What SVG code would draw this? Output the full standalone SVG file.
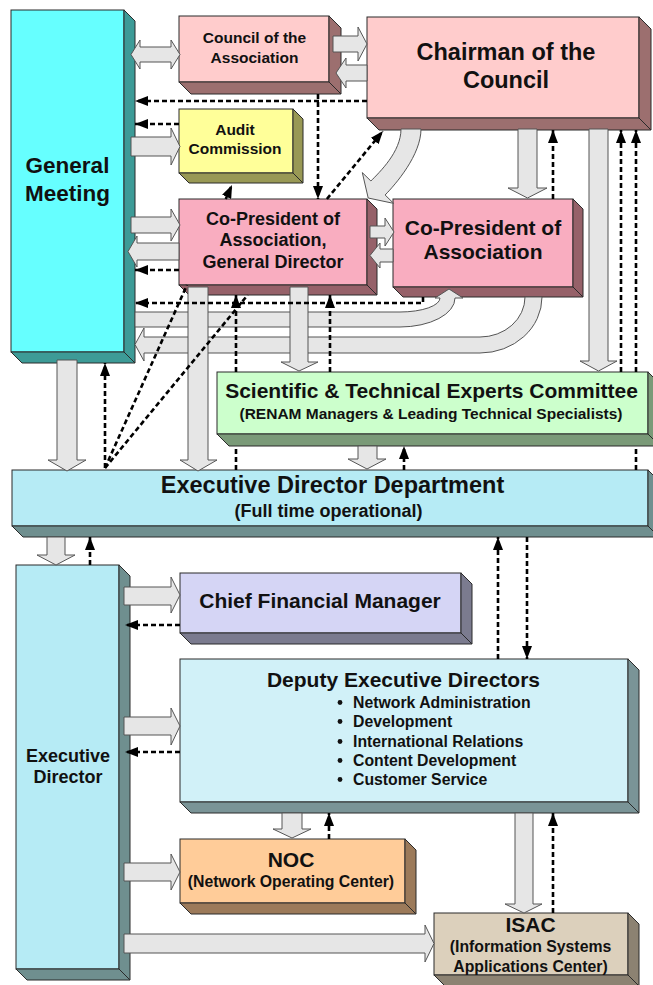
<svg xmlns="http://www.w3.org/2000/svg" width="653" height="985" viewBox="0 0 653 985">
<defs>
<style>
text{font-family:"Liberation Sans",Arial,Helvetica,sans-serif;font-weight:bold;fill:#111;text-anchor:middle}
.fr{stroke:#2a2a2a;stroke-width:1}
.sd{stroke:#2a2a2a;stroke-width:1;stroke-linejoin:round}
.ba{fill:#e6e6e6;stroke:#555;stroke-width:1}
.da{fill:none;stroke:#000;stroke-width:2.6;stroke-dasharray:5 3}
.ah{marker-end:url(#ah)}
</style>
<marker id="ah" viewBox="0 0 13 10" refX="13" refY="5" markerWidth="13" markerHeight="10" orient="auto" markerUnits="userSpaceOnUse"><path d="M0,0 L13,5 L0,10 Z" fill="#000"/></marker>
</defs>
<rect width="653" height="985" fill="#fff"/>

<g id="general-meeting">
<rect class="fr" x="11" y="10" width="113" height="342" fill="#66ffff"/>
<path class="sd" fill="#3d9b97" d="M124 10 L135 21 L135 363 L124 352 Z M11 352 L22 363 L135 363 L124 352 Z"/>
<text font-size="22.5" x="67.5" y="173">General</text>
<text font-size="22.5" x="67.5" y="201">Meeting</text>
</g>

<g id="council">
<rect class="fr" x="179" y="16" width="150" height="66" fill="#ffcccc"/>
<path class="sd" fill="#9c6f6f" d="M329 16 L341 28 L341 94 L329 82 Z M179 82 L191 94 L341 94 L329 82 Z"/>
<text font-size="15.5" x="254.5" y="43">Council of the</text>
<text font-size="15.5" x="254.5" y="63">Association</text>
</g>

<g id="chairman">
<rect class="fr" x="367" y="17" width="272" height="101" fill="#ffcccc"/>
<path class="sd" fill="#9c6f6f" d="M639 17 L651 29 L651 130 L639 118 Z M367 118 L379 130 L651 130 L639 118 Z"/>
<text font-size="23.5" x="506" y="60">Chairman of the</text>
<text font-size="23.5" x="506" y="88">Council</text>
</g>

<g id="audit">
<rect class="fr" x="179" y="109" width="114" height="64" fill="#ffff99"/>
<path class="sd" fill="#999955" d="M293 109 L303 119 L303 183 L293 173 Z M179 173 L189 183 L303 183 L293 173 Z"/>
<text font-size="15.5" x="235" y="135">Audit</text>
<text font-size="15.5" x="235" y="154">Commission</text>
</g>

<g id="copresident-gd">
<rect class="fr" x="179" y="199" width="188" height="86" fill="#f9adc0"/>
<path class="sd" fill="#966169" d="M367 199 L377 209 L377 295 L367 285 Z M179 285 L189 295 L377 295 L367 285 Z"/>
<text font-size="18" x="273" y="225">Co-President of</text>
<text font-size="18" x="273" y="246">Association,</text>
<text font-size="18" x="273" y="268">General Director</text>
</g>

<g id="copresident">
<rect class="fr" x="393" y="199" width="180" height="88" fill="#f9adc0"/>
<path class="sd" fill="#966169" d="M573 199 L583 209 L583 297 L573 287 Z M393 287 L403 297 L583 297 L573 287 Z"/>
<text font-size="21" x="483" y="235">Co-President of</text>
<text font-size="21" x="483" y="259">Association</text>
</g>

<g id="sci-committee">
<rect class="fr" x="217" y="372" width="431" height="62" fill="#ccffcc"/>
<path class="sd" fill="#7a9a78" d="M648 372 L660 384 L660 446 L648 434 Z M217 434 L229 446 L660 446 L648 434 Z"/>
<text font-size="21" x="431.5" y="398">Scientific &amp; Technical Experts Committee</text>
<text font-size="15.5" x="431" y="419">(RENAM Managers &amp; Leading Technical Specialists)</text>
</g>

<g id="exec-dept">
<rect class="fr" x="12" y="470" width="636" height="56" fill="#b6ebf5"/>
<path class="sd" fill="#6f8f8f" d="M648 470 L659 481 L659 537 L648 526 Z M12 526 L23 537 L659 537 L648 526 Z"/>
<text font-size="23.5" x="332.5" y="493">Executive Director Department</text>
<text font-size="18" x="328.5" y="517">(Full time operational)</text>
</g>

<g id="exec-director">
<rect class="fr" x="16" y="565" width="103" height="404" fill="#b6ebf5"/>
<path class="sd" fill="#6f8f8f" d="M119 565 L130 576 L130 980 L119 969 Z M16 969 L27 980 L130 980 L119 969 Z"/>
<text font-size="18" x="68" y="762">Executive</text>
<text font-size="18" x="68" y="783">Director</text>
</g>

<g id="cfm">
<rect class="fr" x="180" y="573" width="281" height="60" fill="#d5d5f5"/>
<path class="sd" fill="#7b7b8f" d="M461 573 L472 584 L472 644 L461 633 Z M180 633 L191 644 L472 644 L461 633 Z"/>
<text font-size="21" x="320" y="608">Chief Financial Manager</text>
</g>

<g id="deputy">
<rect class="fr" x="180" y="659" width="448" height="143" fill="#d1f1f8"/>
<path class="sd" fill="#7a9497" d="M628 659 L639 670 L639 813 L628 802 Z M180 802 L191 813 L639 813 L628 802 Z"/>
<text font-size="21" x="403.5" y="687">Deputy Executive Directors</text>
<g fill="#111">
<circle cx="340" cy="702.5" r="2.4"/><circle cx="340" cy="721.5" r="2.4"/><circle cx="340" cy="741.5" r="2.4"/><circle cx="340" cy="760.5" r="2.4"/><circle cx="340" cy="779.5" r="2.4"/>
</g>
<g font-size="15.8">
<text x="353" y="708" style="text-anchor:start">Network Administration</text>
<text x="353" y="727" style="text-anchor:start">Development</text>
<text x="353" y="747" style="text-anchor:start">International Relations</text>
<text x="353" y="766" style="text-anchor:start">Content Development</text>
<text x="353" y="785" style="text-anchor:start">Customer Service</text>
</g>
</g>

<g id="noc">
<rect class="fr" x="180" y="839" width="225" height="64" fill="#ffcc99"/>
<path class="sd" fill="#9c7a5a" d="M405 839 L416 850 L416 914 L405 903 Z M180 903 L191 914 L416 914 L405 903 Z"/>
<text font-size="21" x="291" y="867">NOC</text>
<text font-size="15.8" x="291" y="887">(Network Operating Center)</text>
</g>

<g id="isac">
<rect class="fr" x="434" y="913" width="194" height="62" fill="#dcd0bc"/>
<path class="sd" fill="#8c8272" d="M628 913 L639 924 L639 986 L628 975 Z M434 975 L445 986 L639 986 L628 975 Z"/>
<text font-size="21" x="530.5" y="932">ISAC</text>
<text font-size="15.8" x="530.5" y="952">(Information Systems</text>
<text font-size="15.8" x="530.5" y="972">Applications Center)</text>
</g>

<g id="connectors">
<g class="ba">
<path d="M131 54.5 L140 40 L140 47 L171 47 L171 40 L180 54.5 L171 69 L171 62 L140 62 L140 69 Z"/>
<path d="M333 36 L358 36 L358 27 L367 44 L358 61 L358 52 L333 52 Z"/>
<path d="M367 65 L346 65 L346 58 L336 73 L346 88 L346 81 L367 81 Z"/>
<path d="M131 137 L171 137 L171 128 L180 146.5 L171 165 L171 156 L131 156 Z"/>
<path d="M131 217 L171 217 L171 209 L180 225 L171 241 L171 233 L131 233 Z"/>
<path d="M179 243 L137 243 L137 236 L128 251.5 L137 267 L137 260 L179 260 Z"/>
<path d="M370 226 L385 226 L385 218 L394 232 L385 246 L385 238 L370 238 Z"/>
<path d="M393 249 L380 249 L380 243 L370 255.5 L380 268 L380 262 L393 262 Z"/>
<path d="M518 129 L537 129 L537 188 L547 188 L527.5 198 L508 188 L518 188 Z"/>
<path d="M589 129 L608 129 L608 361 L617 361 L598.5 371 L580 361 L589 361 Z"/>
<path d="M401 129 L421 129 C421 155 395.6 184.3 385.1 195 L393.7 203.4 L368.2 198 L362.3 172.6 L370.9 181 C379.3 172.4 401 152 401 129 Z"/>
<path d="M135 312 L400 312 A40 14 0 0 0 440 298 L435 298 L449 289 L463 298 L455 298 A55 29 0 0 1 400 327 L135 327 Z"/>
<path d="M525 297 L542 297 A62 56 0 0 1 480 353 L144 353 L144 361 L135 344.5 L144 328 L144 337 L480 337 A45 40 0 0 0 525 297 Z"/>
<path d="M188 287 L208 287 L208 460 L217 460 L198 471 L180 460 L188 460 Z"/>
<path d="M290 287 L308 287 L308 362 L318 362 L299 371 L281 362 L290 362 Z"/>
<path d="M57 360 L77 360 L77 460 L86 460 L67 471 L48 460 L57 460 Z"/>
<path d="M358 446 L377 446 L377 459 L386 459 L367 469 L348 459 L358 459 Z"/>
<path d="M47 537 L65 537 L65 555 L75 555 L56 565 L37 555 L47 555 Z"/>
<path d="M124 587 L171 587 L171 577 L180 595 L171 613 L171 605 L124 605 Z"/>
<path d="M124 717 L171 717 L171 708 L180 726 L171 745 L171 735 L124 735 Z"/>
<path d="M124 863 L171 863 L171 854 L180 872 L171 890 L171 881 L124 881 Z"/>
<path d="M124 934 L425 934 L425 925 L434 943.5 L425 962 L425 953 L124 953 Z"/>
<path d="M282 813 L302 813 L302 829 L311 829 L292 838 L273 829 L282 829 Z"/>
<path d="M515 813 L533 813 L533 904 L542 904 L524 913 L505 904 L515 904 Z"/>
</g>
<g class="da">
<path class="ah" d="M367 101 L135 101"/>
<path class="ah" d="M318 94 L318 199"/>
<path class="ah" d="M179 124 L135 124"/>
<path d="M105 468 L187 285"/>
<path class="ah" d="M225.7 199 L232 185"/>
<path d="M105 468 L247.7 295"/>
<path class="ah" d="M326.9 199 L383 131"/>
<path class="ah" d="M105 468 L105 363"/>
<path class="ah" d="M179 270 L135 270"/>
<path class="ah" d="M423 297 L423 303 L135 303"/>
<path d="M236 470 L236 446"/>
<path class="ah" d="M236 372 L236 295"/>
<path class="ah" d="M330 372 L330 295"/>
<path class="ah" d="M553 199 L553 130"/>
<path class="ah" d="M621 372 L621 130"/>
<path d="M636 470 L636 446"/>
<path class="ah" d="M636 372 L636 130"/>
<path class="ah" d="M404 470 L404 446"/>
<path class="ah" d="M90 565 L90 537"/>
<path class="ah" d="M498 659 L498 537"/>
<path class="ah" d="M527 537 L527 659"/>
<path class="ah" d="M180 625 L125 625"/>
<path class="ah" d="M180 752 L125 752"/>
<path class="ah" d="M329 839 L329 813"/>
<path class="ah" d="M553 913 L553 813"/>
</g>
</g>
</svg>
